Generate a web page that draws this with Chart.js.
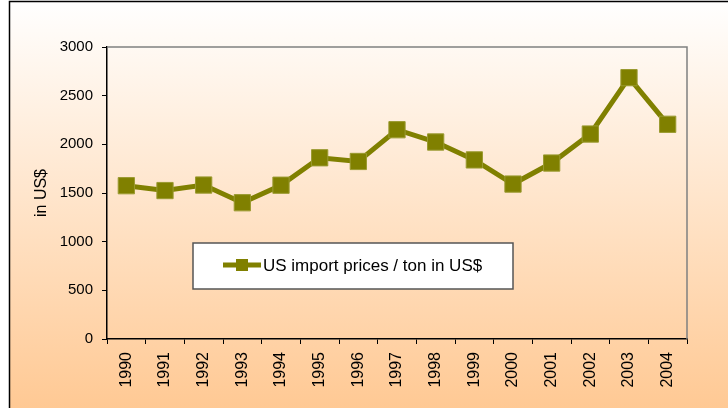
<!DOCTYPE html>
<html>
<head>
<meta charset="utf-8">
<script src="https://cdn.jsdelivr.net/npm/chart.js@4/dist/chart.umd.min.js"></script>
<style>
  html, body { margin: 0; padding: 0; background: #fff; }
  #wrap { width: 728px; height: 408px; position: relative; }
</style>
</head>
<body>
<div id="wrap"><canvas id="priceChart"></canvas></div>
<script>
const years = ["1990","1991","1992","1993","1994","1995","1996","1997","1998","1999","2000","2001","2002","2003","2004"];
const prices = [1575, 1525, 1582, 1400, 1580, 1862, 1824, 2150, 2024, 1840, 1592, 1808, 2106, 2685, 2206];
const yTicks = [0, 500, 1000, 1500, 2000, 2500, 3000];
const seriesLabel = "US import prices / ton in US$";
const yTitle = "in US$";

const FONT = "'Liberation Sans', Arial, sans-serif";
const OLIVE = "#808000";

// background gradient, outer frame, plot border and the boxed legend
const frame = {
    id: "frame",
    beforeDraw(chart){
        const c = chart.ctx;
        const w = chart.width, h = chart.height;
        c.save();
        c.fillStyle = "#fff";
        c.fillRect(0, 0, w, h);
        const g = c.createLinearGradient(0, 0, 0, h);
        g.addColorStop(0, "#ffffff");
        g.addColorStop(1, "#ffc994");
        c.fillStyle = g;
        c.fillRect(9, 1, w - 9, h - 1);
        c.strokeStyle = "#000";
        c.lineWidth = 1.5;
        c.beginPath();
        c.moveTo(9.5, h);
        c.lineTo(9.5, 1.5);
        c.lineTo(w, 1.5);
        c.stroke();
        c.restore();
    },
    afterDatasetsDraw(chart){
        const c = chart.ctx;
        const a = chart.chartArea;
        c.save();
        c.strokeStyle = "#808080";
        c.lineWidth = 1.5;
        c.beginPath();
        c.moveTo(a.left, a.top);
        c.lineTo(a.right, a.top);
        c.lineTo(a.right, a.bottom);
        c.stroke();

        // legend box
        const ds = chart.data.datasets[0];
        const bx = 193, by = 243, bw = 320, bh = 46;
        c.fillStyle = "#fff";
        c.fillRect(bx, by, bw, bh);
        c.strokeStyle = "#555";
        c.lineWidth = 1.5;
        c.strokeRect(bx, by, bw, bh);
        const ly = 265;
        c.strokeStyle = ds.borderColor;
        c.lineWidth = 5;
        c.beginPath();
        c.moveTo(223, ly);
        c.lineTo(261, ly);
        c.stroke();
        c.fillStyle = ds.borderColor;
        c.fillRect(236, ly - 6, 12, 12);
        c.fillStyle = "#000";
        c.font = "17px " + FONT;
        c.textBaseline = "middle";
        c.textAlign = "left";
        c.fillText(ds.label, 263, ly + 1);
        c.restore();
    }
};

new Chart(document.getElementById("priceChart"), {
    type: "line",
    data: {
        labels: years,
        datasets: [{
            label: seriesLabel,
            data: prices,
            borderColor: OLIVE,
            backgroundColor: OLIVE,
            borderWidth: 5,
            tension: 0,
            pointStyle: "rect",
            pointRadius: 11.5,
            pointHoverRadius: 11.5,
            pointBorderWidth: 1,
            pointBorderColor: "#9a9a30",
            pointBackgroundColor: OLIVE
        }]
    },
    options: {
        responsive: true,
        maintainAspectRatio: false,
        animation: false,
        layout: { padding: { left: 0, top: 47, right: 41, bottom: 0 } },
        plugins: {
            legend: { display: false },
            tooltip: { enabled: false }
        },
        scales: {
            x: {
                offset: true,
                grid: {
                    offset: true,
                    drawOnChartArea: false,
                    drawTicks: true,
                    tickLength: 5,
                    color: "#000",
                    lineWidth: 1
                },
                border: { color: "#000", width: 1.5 },
                ticks: {
                    color: "#000",
                    font: { family: FONT, size: 16 },
                    minRotation: 90,
                    maxRotation: 90,
                    padding: 8,
                    autoSkip: false
                },
                afterFit(scale){ scale.height = 69; }
            },
            y: {
                min: yTicks[0],
                max: yTicks[yTicks.length - 1],
                afterBuildTicks(scale){ scale.ticks = yTicks.map(v => ({ value: v })); },
                grid: {
                    drawOnChartArea: false,
                    drawTicks: true,
                    tickLength: 5,
                    color: "#000",
                    lineWidth: 1
                },
                border: { color: "#000", width: 1.5 },
                ticks: {
                    color: "#000",
                    font: { family: FONT, size: 15 },
                    padding: 9,
                    callback: v => String(v)
                },
                title: {
                    display: true,
                    text: yTitle,
                    color: "#000",
                    font: { family: FONT, size: 16 },
                    padding: { top: 32, bottom: 0 }
                },
                afterFit(scale){ scale.width = 107; }
            }
        }
    },
    plugins: [frame]
});
</script>
</body>
</html>
